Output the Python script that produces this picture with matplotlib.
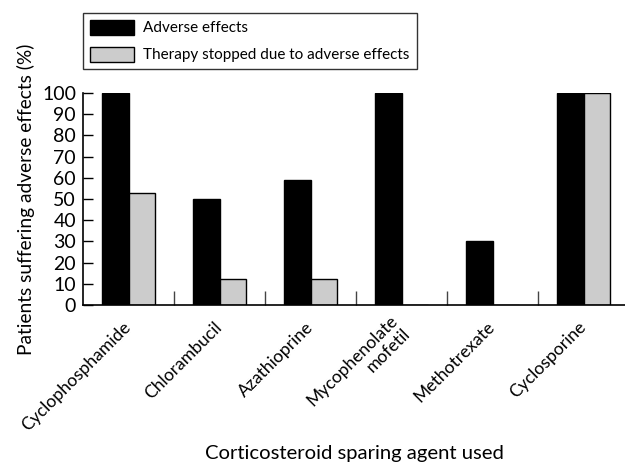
import matplotlib
matplotlib.use("Agg")
import matplotlib.pyplot as plt
from matplotlib.patches import Patch
import numpy as np

agents = ["Cyclophosphamide", "Chlorambucil", "Azathioprine",
          "Mycophenolate\nmofetil", "Methotrexate", "Cyclosporine"]
adverse = [100, 50, 59, 100, 30, 100]
stopped = [53, 12.5, 12.5, 0, 0, 100]
yticks = list(range(0, 101, 10))

plt.rcParams['font.family'] = ['Lato', 'DejaVu Sans']

fig = plt.figure(figsize=(6.25, 4.68), dpi=100)
ax = fig.add_axes([83 / 625, 163 / 468, 542 / 625, 212 / 468])

x = np.arange(len(agents))
w = 0.29
ax.bar(x - w / 2, adverse, w, color='black', edgecolor='black', linewidth=1)
ax.bar(x + w / 2, stopped, w, color='#cccccc', edgecolor='black', linewidth=1)

ax.set_xlim(-0.5, -0.5 + 542 / 91)
ax.set_ylim(0, 100)
ax.set_yticks(yticks)
ax.tick_params(axis='y', direction='in', length=7, width=1, labelsize=14, pad=5)

# separators between groups as major ticks, labels on minor ticks
ax.set_xticks(x[:-1] + 0.5)
ax.set_xticklabels([])
ax.tick_params(axis='x', which='major', direction='in', length=10, width=1, color='#444444')
ax.set_xticks(x, minor=True)
ax.set_xticklabels(agents, minor=True, rotation=45, ha='right', va='center',
                   rotation_mode='anchor', fontsize=12.6, multialignment='right')
ax.tick_params(axis='x', which='minor', length=0, pad=14)

ax.spines['top'].set_visible(False)
ax.spines['right'].set_visible(False)
ax.spines['left'].set_linewidth(1.2)
ax.spines['bottom'].set_linewidth(1.2)

ax.set_ylabel('Patients suffering adverse effects (%)', fontsize=13.8, labelpad=5)
fig.text(0.5 * (83 + 625) / 625, 15 / 468, 'Corticosteroid sparing agent used',
         ha='center', va='center', fontsize=14.6)

handles = [Patch(facecolor='black', edgecolor='black', label='Adverse effects'),
           Patch(facecolor='#cccccc', edgecolor='black', label='Therapy stopped due to adverse effects')]
fig.legend(handles=handles, loc='upper left', bbox_to_anchor=(83 / 625, 1 - 13 / 468),
           fontsize=11, frameon=True, fancybox=False, edgecolor='black',
           handlelength=2.9, handleheight=1.1, borderpad=0.45, labelspacing=0.75,
           handletextpad=0.6, borderaxespad=0)

fig.savefig('out.png', dpi=100)
